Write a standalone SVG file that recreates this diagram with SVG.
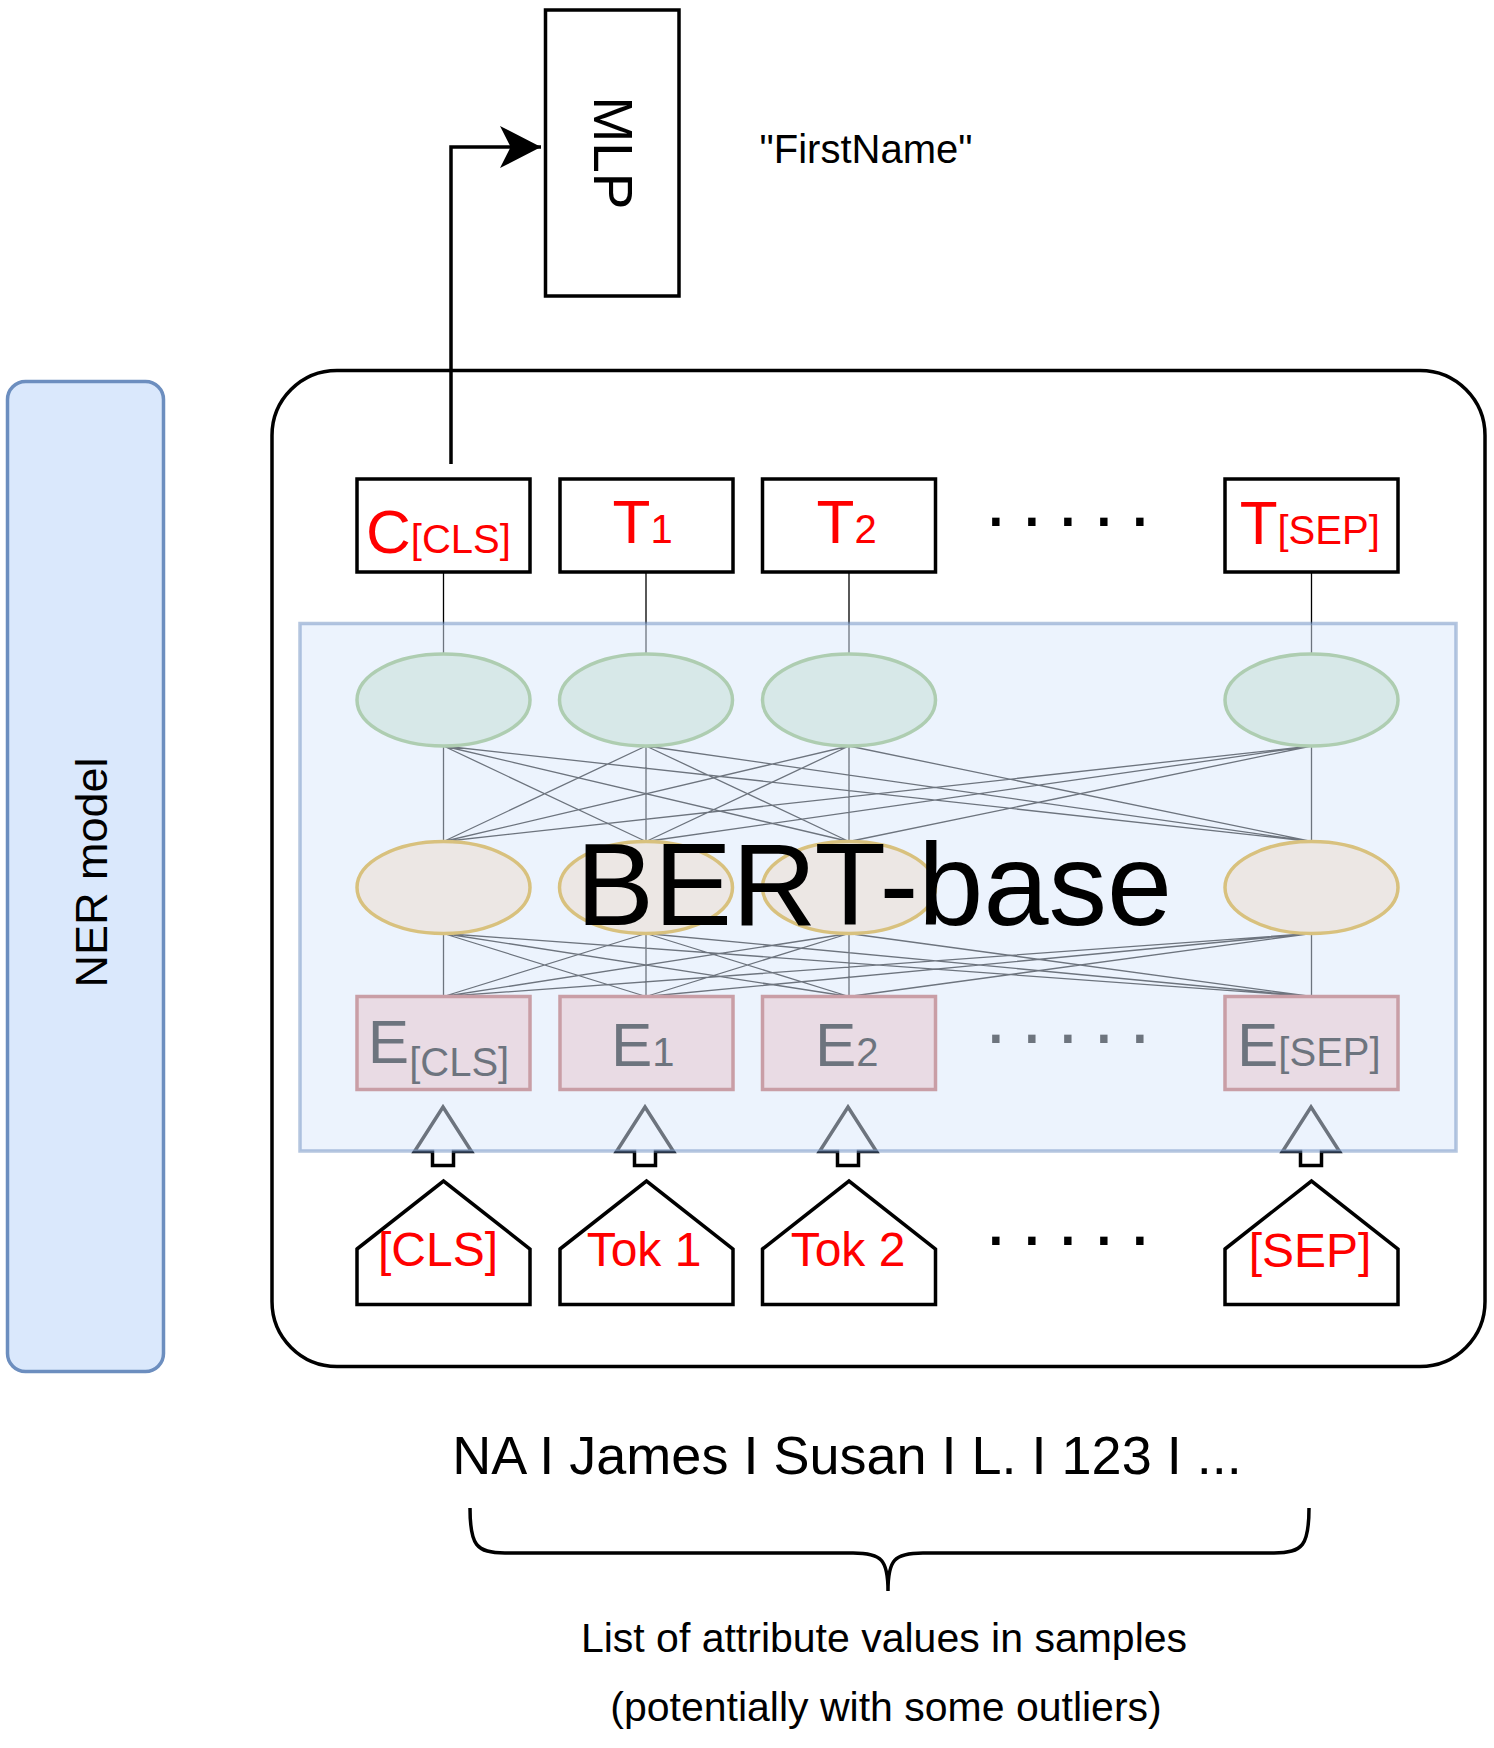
<svg xmlns="http://www.w3.org/2000/svg" width="1494" height="1748" viewBox="0 0 1494 1748">
<style>
text{font-family:"Liberation Sans",Arial,Helvetica,sans-serif}
.box{fill:#fff;stroke:#000;stroke-width:3.5}
.red{fill:#ff0000}
.blk{fill:#000}
.green{fill:#d5e8d4;stroke:#82b366;stroke-width:3.5}
.tan{fill:#ffe6cc;stroke:#d79b00;stroke-width:3.5}
.emb{fill:#f8cecc;stroke:#b85450;stroke-width:3.5}
.net{fill:none;stroke:#000;stroke-width:1.3}
.blockarrow{fill:#fff;stroke:#000;stroke-width:3.5;stroke-linejoin:miter}
</style>
<defs>
<marker id="arrowhead" markerUnits="userSpaceOnUse" viewBox="0 0 41 42" refX="41" refY="21" markerWidth="41" markerHeight="42" orient="auto">
<path d="M0,0 L41,21 L0,42 L10.6,21 Z" fill="#000"/>
</marker>
</defs>
<rect width="1494" height="1748" fill="#fff"/>

<g id="ner-model">
<rect x="7.5" y="381.5" width="156" height="990" rx="18" ry="18" fill="#dae8fc" stroke="#6c8ebf" stroke-width="3.5"/>
<text transform="translate(107,872.5) rotate(-90)" text-anchor="middle" font-size="45" class="blk">NER model</text>
</g>

<g id="outer-model">
<rect x="272" y="370.5" width="1213" height="996" rx="65" ry="65" fill="#fff" stroke="#000" stroke-width="3.5"/>
</g>

<g id="mlp">
<rect x="545.5" y="10" width="133.5" height="286" class="box"/>
<text transform="translate(593.5,153) rotate(90)" text-anchor="middle" font-size="55" class="blk">MLP</text>
</g>

<g id="firstname-label">
<text x="866" y="163" text-anchor="middle" font-size="40" class="blk">"FirstName"</text>
</g>

<g id="t-cls">
<rect x="357" y="479" width="173" height="93" class="box"/>
<text x="438.5" y="553" text-anchor="middle" class="red" font-size="62">C<tspan font-size="40">[CLS]</tspan></text>
</g>
<g id="t-1">
<rect x="560" y="479" width="173" height="93" class="box"/>
<text x="642.6" y="543" text-anchor="middle" class="red" font-size="62">T<tspan font-size="40">1</tspan></text>
</g>
<g id="t-2">
<rect x="762.5" y="479" width="173" height="93" class="box"/>
<text x="846.6" y="543" text-anchor="middle" class="red" font-size="62">T<tspan font-size="40">2</tspan></text>
</g>
<g id="t-sep">
<rect x="1225" y="479" width="173" height="93" class="box"/>
<text x="1309.7" y="544" text-anchor="middle" class="red" font-size="62">T<tspan font-size="40">[SEP]</tspan></text>
</g>
<g id="t-dots">
<text x="985 1021 1057 1093 1129" y="526" font-size="78" class="blk">.....</text>
</g>

<g id="connectors">
<path class="net" d="M443.5,572L443.5,654 M646,572L646,654 M849,572L849,654 M1311.5,572L1311.5,654"/>
<path class="net" d="M443.5,746L443.5,841.5 M443.5,746L646,841.5 M443.5,746L849,841.5 M443.5,746L1311.5,841.5 M646,746L443.5,841.5 M646,746L646,841.5 M646,746L849,841.5 M646,746L1311.5,841.5 M849,746L443.5,841.5 M849,746L646,841.5 M849,746L849,841.5 M849,746L1311.5,841.5 M1311.5,746L443.5,841.5 M1311.5,746L646,841.5 M1311.5,746L849,841.5 M1311.5,746L1311.5,841.5"/>
<path class="net" d="M443.5,933.5L443.5,996.5 M443.5,933.5L646,996.5 M443.5,933.5L849,996.5 M443.5,933.5L1311.5,996.5 M646,933.5L443.5,996.5 M646,933.5L646,996.5 M646,933.5L849,996.5 M646,933.5L1311.5,996.5 M849,933.5L443.5,996.5 M849,933.5L646,996.5 M849,933.5L849,996.5 M849,933.5L1311.5,996.5 M1311.5,933.5L443.5,996.5 M1311.5,933.5L646,996.5 M1311.5,933.5L849,996.5 M1311.5,933.5L1311.5,996.5"/>
<path class="blockarrow" d="M443,1107 L471.5,1151.5 L453.5,1151.5 L453.5,1165.5 L432.5,1165.5 L432.5,1151.5 L414.5,1151.5 Z"/>
<path class="blockarrow" d="M645,1107 L673.5,1151.5 L655.5,1151.5 L655.5,1165.5 L634.5,1165.5 L634.5,1151.5 L616.5,1151.5 Z"/>
<path class="blockarrow" d="M848,1107 L876.5,1151.5 L858.5,1151.5 L858.5,1165.5 L837.5,1165.5 L837.5,1151.5 L819.5,1151.5 Z"/>
<path class="blockarrow" d="M1311,1107 L1339.5,1151.5 L1321.5,1151.5 L1321.5,1165.5 L1300.5,1165.5 L1300.5,1151.5 L1282.5,1151.5 Z"/>
</g>

<g id="hidden-layer-top">
<ellipse cx="443.5" cy="700" rx="86.5" ry="46" class="green"/>
<ellipse cx="646" cy="700" rx="86.5" ry="46" class="green"/>
<ellipse cx="849" cy="700" rx="86.5" ry="46" class="green"/>
<ellipse cx="1311.5" cy="700" rx="86.5" ry="46" class="green"/>
</g>
<g id="hidden-layer-mid">
<ellipse cx="443.5" cy="887.5" rx="86.5" ry="46" class="tan"/>
<ellipse cx="646" cy="887.5" rx="86.5" ry="46" class="tan"/>
<ellipse cx="849" cy="887.5" rx="86.5" ry="46" class="tan"/>
<ellipse cx="1311.5" cy="887.5" rx="86.5" ry="46" class="tan"/>
</g>
<g id="e-cls">
<rect x="357" y="996.5" width="173" height="93" class="emb"/>
<text x="438.5" y="1063" text-anchor="middle" class="blk" font-size="62">E<tspan font-size="40" dy="13">[CLS]</tspan></text>
</g>
<g id="e-1">
<rect x="560" y="996.5" width="173" height="93" class="emb"/>
<text x="642.8" y="1066" text-anchor="middle" class="blk" font-size="62">E<tspan font-size="40">1</tspan></text>
</g>
<g id="e-2">
<rect x="762.5" y="996.5" width="173" height="93" class="emb"/>
<text x="846.8" y="1066" text-anchor="middle" class="blk" font-size="62">E<tspan font-size="40">2</tspan></text>
</g>
<g id="e-sep">
<rect x="1225" y="996.5" width="173" height="93" class="emb"/>
<text x="1308.8" y="1066" text-anchor="middle" class="blk" font-size="62">E<tspan font-size="40">[SEP]</tspan></text>
</g>
<g id="e-dots">
<text x="985 1021 1057 1093 1129" y="1043" font-size="78" class="blk">.....</text>
</g>

<g id="bert-base">
<rect x="300" y="623.5" width="1156" height="527.5" fill="#dae8fc" fill-opacity="0.5" stroke="#6c8ebf" stroke-opacity="0.5" stroke-width="3.5"/>
<text x="874" y="925" text-anchor="middle" font-size="117" class="blk">BERT-base</text>
</g>

<g id="tok-cls">
<path d="M357,1249 L443.5,1181 L530,1249 L530,1304.5 L357,1304.5 Z" class="box"/>
<text x="438" y="1266" text-anchor="middle" font-size="48" class="red">[CLS]</text>
</g>
<g id="tok-1">
<path d="M560,1249 L646.5,1181 L733,1249 L733,1304.5 L560,1304.5 Z" class="box"/>
<text x="644" y="1266" text-anchor="middle" font-size="48" class="red">Tok 1</text>
</g>
<g id="tok-2">
<path d="M762.5,1249 L849,1181 L935.5,1249 L935.5,1304.5 L762.5,1304.5 Z" class="box"/>
<text x="848" y="1266" text-anchor="middle" font-size="48" class="red">Tok 2</text>
</g>
<g id="tok-sep">
<path d="M1225,1249 L1311.5,1181 L1398,1249 L1398,1304.5 L1225,1304.5 Z" class="box"/>
<text x="1310" y="1267" text-anchor="middle" font-size="48" class="red">[SEP]</text>
</g>
<g id="tok-dots">
<text x="985 1021 1057 1093 1129" y="1245" font-size="78" class="blk">.....</text>
</g>

<g id="cls-to-mlp">
<path d="M451,464 L451,147 L541,147" fill="none" stroke="#000" stroke-width="3.5" marker-end="url(#arrowhead)"/>
</g>

<g id="values">
<text x="847" y="1474" text-anchor="middle" font-size="54" class="blk">NA I James I Susan I L. I 123 I ...</text>
</g>
<g id="brace">
<path d="M470,1508 C470,1545 476,1553 505,1553 L853,1553 C882,1553 888,1560 888,1591 M888,1591 C888,1560 894,1553 923,1553 L1274,1553 C1303,1553 1309,1545 1309,1508" fill="none" stroke="#000" stroke-width="3.5"/>
</g>
<g id="caption">
<text x="884" y="1652" text-anchor="middle" font-size="41" class="blk">List of attribute values in samples</text>
<text x="886" y="1721" text-anchor="middle" font-size="41" class="blk">(potentially with some outliers)</text>
</g>
</svg>
